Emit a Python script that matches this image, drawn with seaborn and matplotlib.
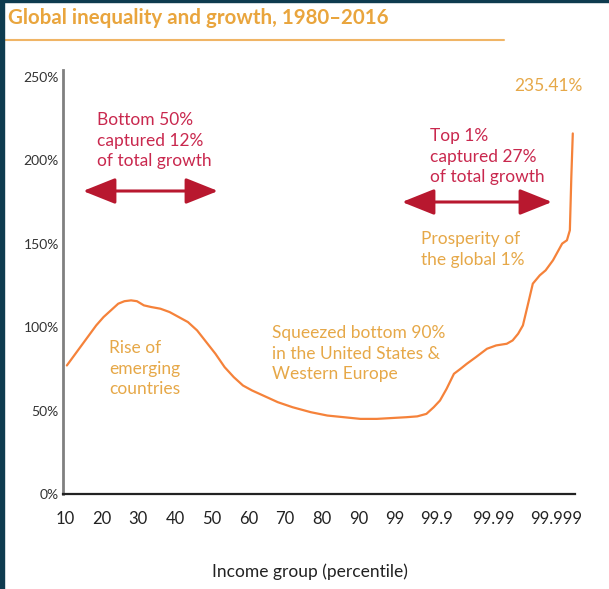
import numpy as np
import pandas as pd
import seaborn as sns
import matplotlib.pyplot as plt
from matplotlib.patches import Rectangle, FancyArrowPatch
from matplotlib.lines import Line2D

sns.set_theme(style="white")
plt.rcParams['font.family'] = ['Lato', 'DejaVu Sans']

## data: x is position on the stretched percentile axis
tick_labels = ['10', '20', '30', '40', '50', '60', '70', '80', '90',
               '99', '99.9', '99.99', '99.999']
tick_pos = [0, 1, 2, 3, 4, 5, 6, 7, 8, 9, 10.13, 11.66, 13.38]

rank = [0.05, 0.25, 0.45, 0.65, 0.85, 1.05, 1.25, 1.45, 1.62, 1.8, 1.96,
        2.15, 2.35, 2.6, 2.85, 3.1, 3.35, 3.6, 3.85, 4.1, 4.35,
        4.6, 4.85, 5.1, 5.4, 5.8, 6.2, 6.7, 7.15, 7.6, 8.05, 8.5,
        8.9, 9.3, 9.6, 9.85, 10.05, 10.22, 10.4, 10.6, 10.78, 10.95,
        11.2, 11.5, 11.75, 12.04, 12.2, 12.35, 12.48, 12.6, 12.75,
        12.94, 13.1, 13.3, 13.45, 13.55, 13.68, 13.76, 13.8, 13.84]
growth = [77, 83, 89, 95, 101, 106, 110, 114, 115.5, 116, 115.5,
          113, 112, 111, 109, 106, 103, 98, 91, 84, 76,
          70, 65, 62, 59, 55, 52, 49, 47, 46, 45, 45,
          45.5, 46, 46.5, 48, 52, 56, 63, 72, 75, 78,
          82, 87, 89, 90, 92, 96, 101, 112, 126,
          131, 134, 140, 146, 150, 152, 158, 190, 216]

y_ticks = [0, 50, 100, 150, 200, 250]
y_labels = ['0%', '50%', '100%', '150%', '200%', '250%']

tb = pd.DataFrame({'rank': rank, 'growth': growth})

W, H = 609, 589
gold = '#e6a848'
crimson = '#c9284e'
arrow_red = '#b8182f'

fig = plt.figure(figsize=(W / 100, H / 100), dpi=100)
fig.patch.set_facecolor('white')

def fx(px):
    return px / W

def fy(py):
    return 1 - py / H

ax = fig.add_axes([fx(63), fy(494), (575 - 63) / W, (494 - 70) / H])
sns.lineplot(data=tb, x='rank', y='growth', ax=ax, color='#f5823a', lw=1.6)

ax.set_xlim(-0.055, 13.9)
ax.set_ylim(0, 254)
ax.set_xticks(tick_pos)
ax.set_xticklabels(tick_labels, fontsize=12, color='#222222')
ax.set_yticks(y_ticks)
ax.set_yticklabels(y_labels, fontsize=10, color='#333333')
ax.tick_params(axis='x', length=0, pad=12)
ax.tick_params(axis='y', length=0, pad=3)
ax.set_xlabel('')
ax.set_ylabel('')
for s in ['top', 'right']:
    ax.spines[s].set_visible(False)
ax.spines['left'].set_color('#808080')
ax.spines['left'].set_linewidth(2)
ax.spines['bottom'].set_color('#222222')
ax.spines['bottom'].set_linewidth(1.6)

## frame decorations
fig.patches.append(Rectangle((0, 0), fx(4), 1, transform=fig.transFigure,
                             color='#0e3b4f', zorder=10))
fig.patches.append(Rectangle((0, fy(2)), 1, fy(0) - fy(2), transform=fig.transFigure,
                             color='#0e3b4f', zorder=10))
fig.lines.append(Line2D([fx(5), fx(504)], [fy(40), fy(40)], transform=fig.transFigure,
                        color='#f0b566', lw=1.5))

fig.text(fx(8), fy(18), 'Global inequality and growth, 1980\u20132016', fontsize=14.8,
         fontweight='bold', color='#e9a53d', ha='left', va='center')
fig.text(fx(310), fy(572), 'Income group (percentile)', fontsize=12.5,
         color='#222222', ha='center', va='center')

## annotations
def note(px, py, s, color):
    fig.text(fx(px), fy(py), s, fontsize=12.5, color=color, ha='left', va='top',
             linespacing=1.36)

note(97, 112, 'Bottom 50%\ncaptured 12%\nof total growth', crimson)
note(430, 128, 'Top 1%\ncaptured 27%\nof total growth', crimson)
note(514, 78, '235.41%', gold)
note(421, 231, 'Prosperity of\nthe global 1%', gold)
note(272, 325, 'Squeezed bottom 90%\nin the United States &\nWestern Europe', gold)
note(109, 340, 'Rise of\nemerging\ncountries', gold)

for x0, x1, yy in [(83, 218, 191), (402, 552, 202)]:
    arr = FancyArrowPatch((fx(x0), fy(yy)), (fx(x1), fy(yy)), transform=fig.transFigure,
                          arrowstyle='<|-|>,head_length=1.0,head_width=0.4',
                          mutation_scale=20, color=arrow_red, lw=2.2,
                          shrinkA=0, shrinkB=0)
    fig.patches.append(arr)

plt.savefig('out.png', dpi=100)
